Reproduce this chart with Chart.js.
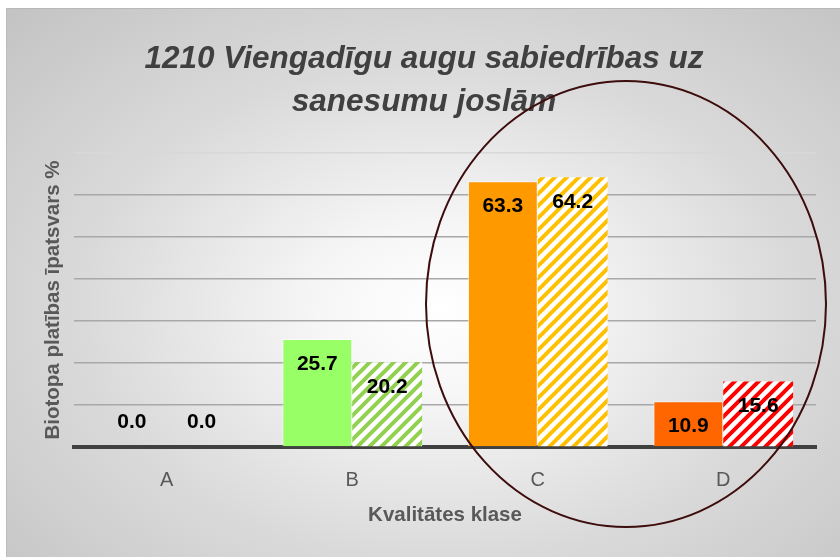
<!DOCTYPE html>
<html>
<head>
<meta charset="utf-8">
<script src="https://cdn.jsdelivr.net/npm/chart.js@4"></script>
<style>
  body { margin: 0; background: #fff; }
  #frame {
    position: absolute; left: 6px; top: 8px; width: 834px; height: 549px;
    border-top: 1px solid #b8b8b8; border-left: 1px solid #bcbcbc;
    box-sizing: border-box;
    background: radial-gradient(ellipse farthest-corner at 52% 55%, #ffffff 0%, #f6f6f6 20%, #dadada 58%, #c3c3c3 100%);
  }
  #wrap { position: absolute; left: 0; top: 0; width: 840px; height: 557px; }
</style>
</head>
<body>
<div id="frame"></div>
<div id="wrap"><canvas id="habitatChart"></canvas></div>
<script>
    // Kvalitātes klases un biotopa platības īpatsvars (%)
    const categories = ['A', 'B', 'C', 'D'];
    const series1 = [0.0, 25.7, 63.3, 10.9];
    const series2 = [0.0, 20.2, 64.2, 15.6];
    const solidColors = ['#99FF66', '#99FF66', '#FF9900', '#FF6600'];
    const hatchColors = ['#92D050', '#92D050', '#FFC000', '#FF0000'];
    const titleLines = ['1210 Viengadīgu augu sabiedrības uz', 'sanesumu joslām'];

    const ctx = document.getElementById('habitatChart').getContext('2d');

    // svītrots raksts otrajai sērijai
    function hatch(color) {
        const c = document.createElement('canvas');
        c.width = c.height = 12;
        const g = c.getContext('2d');
        g.fillStyle = '#ffffff';
        g.fillRect(0, 0, 12, 12);
        g.strokeStyle = color;
        g.lineWidth = 4;
        g.beginPath();
        g.moveTo(0, 12); g.lineTo(12, 0);
        g.moveTo(-6, 6); g.lineTo(6, -6);
        g.moveTo(6, 18); g.lineTo(18, 6);
        g.stroke();
        return ctx.createPattern(c, 'repeat');
    }

    const valueLabels = {
        id: 'valueLabels',
        afterDatasetsDraw(chart) {
            const c = chart.ctx;
            const zero = chart.scales.y.getPixelForValue(0);
            c.save();
            c.font = 'bold 21px "Liberation Sans", Arial, sans-serif';
            c.fillStyle = '#000000';
            c.textAlign = 'center';
            c.textBaseline = 'middle';
            chart.data.datasets.forEach((ds, i) => {
                chart.getDatasetMeta(i).data.forEach((bar, j) => {
                    const v = ds.data[j];
                    const y = v > 0 ? bar.y + 25 : zero - 25;
                    c.fillText(v.toFixed(1), bar.x, y);
                });
            });
            c.restore();
        }
    };

    // ovāls ap C un D
    const ellipseMark = {
        id: 'ellipseMark',
        afterDraw(chart) {
            const c = chart.ctx;
            c.save();
            c.strokeStyle = '#3d0c0c';
            c.lineWidth = 2;
            c.beginPath();
            c.ellipse(626, 304, 200, 223, 0, 0, Math.PI * 2);
            c.stroke();
            c.restore();
        }
    };

    new Chart(ctx, {
        type: 'bar',
        data: {
            labels: categories,
            datasets: [{
                label: '1',
                data: series1,
                backgroundColor: solidColors,
                borderColor: 'rgba(255,255,255,0.6)',
                borderWidth: 1
            }, {
                label: '2',
                data: series2,
                backgroundColor: hatchColors.map(hatch),
                borderWidth: 0
            }]
        },
        options: {
            responsive: true,
            maintainAspectRatio: false,
            animation: false,
            layout: { padding: { left: 8, top: 8, right: 0, bottom: 0 } },
            datasets: { bar: { categoryPercentage: 0.753, barPercentage: 1.0 } },
            plugins: {
                legend: { display: false },
                tooltip: { enabled: false },
                title: {
                    display: true,
                    text: titleLines,
                    color: '#404040',
                    font: { family: '"Liberation Sans", Arial, sans-serif', size: 31.5, style: 'italic', weight: 'bold', lineHeight: '43px' },
                    padding: { top: 30, bottom: 29 }
                }
            },
            scales: {
                x: {
                    grid: { display: false, drawTicks: false },
                    border: { display: true, color: '#404040', width: 4 },
                    ticks: { color: '#595959', padding: 21, font: { family: '"Liberation Sans", Arial, sans-serif', size: 20 } },
                    title: {
                        display: true,
                        text: 'Kvalitātes klase',
                        color: '#595959',
                        font: { family: '"Liberation Sans", Arial, sans-serif', size: 20.5, weight: 'bold' },
                        padding: { top: 0, bottom: 29 }
                    },
                    afterFit(scale) { scale.height = 110; }
                },
                y: {
                    min: 0,
                    max: 70,
                    ticks: { display: false, stepSize: 10 },
                    border: { display: false },
                    grid: {
                        drawTicks: false,
                        lineWidth: 1.5,
                        color: c => c.tick.value === 0 ? 'rgba(0,0,0,0)' : (c.tick.value === 70 ? '#d8d8d8' : '#a8a8a8')
                    },
                    title: {
                        display: true,
                        text: 'Biotopa platības īpatsvars %',
                        color: '#595959',
                        font: { family: '"Liberation Sans", Arial, sans-serif', size: 20.5, weight: 'bold' },
                        padding: { top: 33, bottom: 0 }
                    },
                    afterFit(scale) { scale.width = 66; }
                },
                y2: {
                    position: 'right',
                    min: 0,
                    max: 70,
                    ticks: { display: false },
                    grid: { display: false },
                    border: { display: false },
                    afterFit(scale) { scale.width = 24; }
                }
            }
        },
        plugins: [valueLabels, ellipseMark]
    });
</script>
</body>
</html>
